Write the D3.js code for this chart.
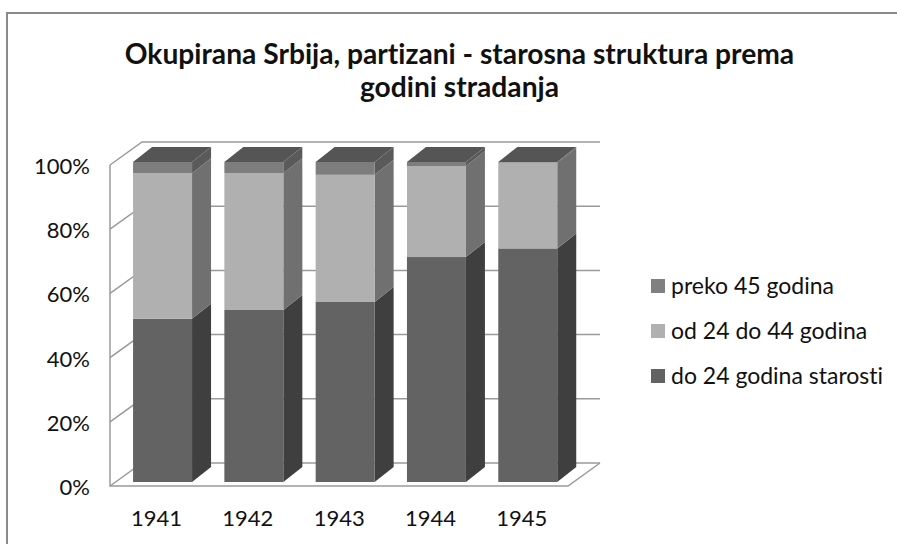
<!DOCTYPE html>
<html><head><meta charset="utf-8">
<script src="https://cdn.jsdelivr.net/npm/d3@7"></script>
<style>html,body{margin:0;padding:0;background:#fff}svg{display:block}text{font-family:Lato,Carlito,sans-serif;fill:#111;font-variant-ligatures:none}</style>
</head><body><div id="c"></div>
<script>
const categories=["1941","1942","1943","1944","1945"];
const seriesNames=["do 24 godina starosti","od 24 do 44 godina","preko 45 godina"];
const young=[0.51,0.5375,0.5625,0.703,0.73];
const middle=[0.455,0.4275,0.3975,0.2845,0.268];
const old=[0.035,0.035,0.04,0.0125,0.002];
const yTicks=[0,0.2,0.4,0.6,0.8,1];
const titleLines=["Okupirana Srbija, partizani - starosna struktura prema","godini stradanja"];
const frontCol=["#636363","#b0b0b0","#7d7d7d"];
const sideCol=["#3f3f3f","#707070","#5a5a5a"];
const topCol=["#555555","#555555","#555555"];
const legendCol=["#626262","#b0b0b0","#808080"];

const W=897,H=544,dx=19,dy=15;
const svg=d3.select("#c").append("svg").attr("width",W).attr("height",H);
svg.append("path").attr("fill","none").attr("stroke","#8a8a8a").attr("stroke-width",2).attr("d",d3.line()([[7,H],[7,13],[W,13]]));

const x=d3.scaleBand().domain(categories).range([116.9,573.4]).paddingInner(.354).paddingOuter(.177);
const y=d3.scaleLinear().domain([0,1]).range([482,162]);
const yWall=d3.scaleLinear().domain([0,1]).range([486,165]);
const wallX=110,backX=142,backDy=23,backRight=600,frontRight=568;

const grid=svg.append("g").attr("fill","none").attr("stroke","#9a9a9a").attr("stroke-width",1.5);
const gl=d3.line();
yTicks.forEach(t=>{
  const f=yWall(t);
  grid.append("path").attr("d",gl([[wallX,f],[backX,f-backDy],[backRight,f-backDy]]));
});
grid.append("path").attr("d",gl([[wallX,yWall(1)],[wallX,yWall(0)],[frontRight,yWall(0)],[backRight,yWall(0)-backDy]]));

const stacked=categories.map((c,i)=>{
  const v=[young[i],middle[i],old[i]];let a=0;
  return v.map((d,k)=>{const r={c,k,y0:a,y1:a+d};a+=d;return r;});
});
const line=d3.line();
const cols=svg.append("g").selectAll("g").data(stacked).join("g");
cols.each(function(segs){
  const g=d3.select(this);
  const l=x(segs[0].c),r=l+x.bandwidth();
  segs.forEach(s=>{
    g.append("path").attr("fill",sideCol[s.k]).attr("d",line([[r,y(s.y0)],[r+dx,y(s.y0)-dy],[r+dx,y(s.y1)-dy],[r,y(s.y1)]])+"Z");
    g.append("rect").attr("x",l).attr("y",y(s.y1)).attr("width",x.bandwidth()).attr("height",y(s.y0)-y(s.y1)).attr("fill",frontCol[s.k]);
  });
  const t=y(segs[2].y1);
  g.append("path").attr("fill",topCol[2]).attr("d",line([[l,t],[l+dx,t-dy],[r+dx,t-dy],[r,t]])+"Z");
});

const labelSize=22;
svg.append("g").attr("text-anchor","end").attr("font-size",labelSize).selectAll("text").data(yTicks).join("text").attr("x",90).attr("y",d=>yWall(d)+9).text(d3.format(".0%"));
svg.append("g").attr("text-anchor","middle").attr("font-size",labelSize).selectAll("text").data(categories).join("text")
  .attr("x",d=>x(d)+x.bandwidth()/2-6).attr("y",526).text(d=>d);
svg.append("g").attr("text-anchor","middle").attr("font-size",28.2).attr("font-weight",700).selectAll("text").data(titleLines).join("text")
  .attr("x",459.5).attr("y",(d,i)=>64+i*33).text(d=>d);

const legendY=d3.scalePoint().domain([2,1,0]).range([286,376]);
const lg=svg.append("g").selectAll("g").data([2,1,0]).join("g").attr("transform",k=>`translate(651,${legendY(k)})`);
lg.append("rect").attr("x",0).attr("y",-7).attr("width",14).attr("height",14).attr("fill",k=>legendCol[k]);
lg.append("text").attr("x",20).attr("y",7.5).attr("font-size",23).text(k=>seriesNames[k]);
</script></body></html>
